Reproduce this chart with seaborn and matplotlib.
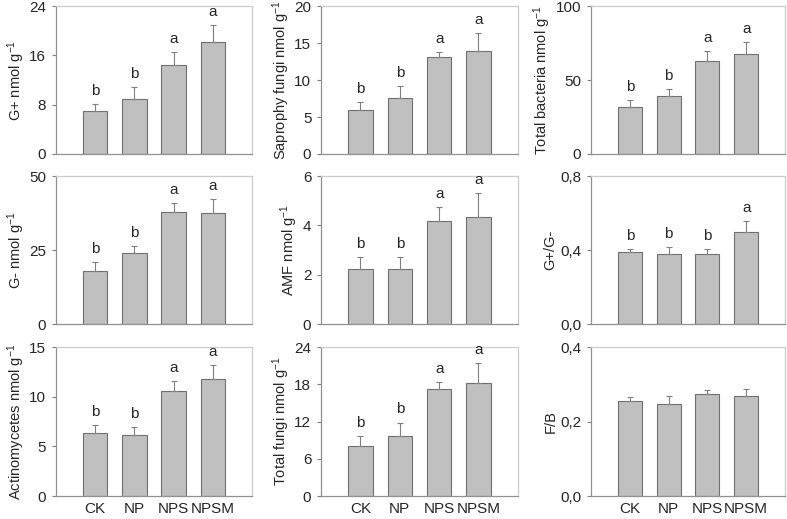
import numpy as np
import pandas as pd
import seaborn as sns
import matplotlib
matplotlib.use("Agg")
import matplotlib.pyplot as plt
from matplotlib.ticker import FuncFormatter

sns.set_style("white")
plt.rcParams['font.family'] = ['Liberation Sans', 'DejaVu Sans']
plt.rcParams['mathtext.default'] = 'regular'

treatments = ["CK", "NP", "NPS", "NPSM"]

# means, standard errors and significance letters per panel
g_pos = [7.0, 9.0, 14.5, 18.2]
g_pos_se = [1.1, 1.9, 2.0, 2.8]
g_pos_sig = ["b", "b", "a", "a"]

sapro = [5.9, 7.6, 13.1, 13.9]
sapro_se = [1.1, 1.65, 0.65, 2.4]
sapro_sig = ["b", "b", "a", "a"]

bact = [31.7, 39.1, 62.9, 67.4]
bact_se = [4.9, 4.7, 6.5, 8.1]
bact_sig = ["b", "b", "a", "a"]

g_neg = [17.9, 24.0, 37.9, 37.4]
g_neg_se = [3.1, 2.4, 3.1, 4.9]
g_neg_sig = ["b", "b", "a", "a"]

amf = [2.22, 2.22, 4.19, 4.35]
amf_se = [0.5, 0.48, 0.54, 0.96]
amf_sig = ["b", "b", "a", "a"]

ratio_g = [0.392, 0.376, 0.380, 0.495]
ratio_g_se = [0.016, 0.043, 0.028, 0.064]
ratio_g_sig = ["b", "b", "b", "a"]

actino = [6.35, 6.18, 10.6, 11.8]
actino_se = [0.8, 0.78, 1.0, 1.4]
actino_sig = ["b", "b", "a", "a"]

fungi = [8.07, 9.74, 17.22, 18.19]
fungi_se = [1.56, 2.1, 1.18, 3.2]
fungi_sig = ["b", "b", "a", "a"]

fb = [0.256, 0.247, 0.274, 0.268]
fb_se = [0.011, 0.022, 0.010, 0.020]
fb_sig = ["", "", "", ""]

panels = [
    (g_pos, g_pos_se, g_pos_sig, "G+ nmol g$^{-1}$", [0, 8, 16, 24], False),
    (sapro, sapro_se, sapro_sig, "Saprophy fungi nmol g$^{-1}$", [0, 5, 10, 15, 20], False),
    (bact, bact_se, bact_sig, "Total bacteria nmol g$^{-1}$", [0, 50, 100], False),
    (g_neg, g_neg_se, g_neg_sig, "G- nmol g$^{-1}$", [0, 25, 50], False),
    (amf, amf_se, amf_sig, "AMF nmol g$^{-1}$", [0, 2, 4, 6], False),
    (ratio_g, ratio_g_se, ratio_g_sig, "G+/G-", [0, 0.4, 0.8], True),
    (actino, actino_se, actino_sig, "Actinomycetes nmol g$^{-1}$", [0, 5, 10, 15], False),
    (fungi, fungi_se, fungi_sig, "Total fungi nmol g$^{-1}$", [0, 6, 12, 18, 24], False),
    (fb, fb_se, fb_sig, "F/B", [0, 0.2, 0.4], True),
]

fig = plt.figure(figsize=(7.87, 5.19), dpi=100)
lefts = [0.0712, 0.408, 0.751]
widths = [0.249, 0.250, 0.2465]
bottoms = [0.7033, 0.3757, 0.0443]
heights = [0.285, 0.285, 0.287]

for i, (vals, se, sig, label, ticks, decimal) in enumerate(panels):
    r, c = divmod(i, 3)
    ax = fig.add_axes([lefts[c], bottoms[r], widths[c], heights[r]])
    df = pd.DataFrame({"treatment": treatments, "value": vals})
    sns.barplot(data=df, x="treatment", y="value", ax=ax, color="#c0c0c0",
                saturation=1, width=0.62, edgecolor="#707070", linewidth=0.8,
                errorbar=None)
    x = np.arange(len(treatments))
    ax.errorbar(x, vals, yerr=[np.zeros(len(vals)), se], fmt="none",
                ecolor="#808080", elinewidth=0.8, capsize=2.5, capthick=0.8)
    for xi, v, e, s in zip(x, vals, se, sig):
        ax.annotate(s, (xi, v + e), xytext=(0, 6.5), textcoords="offset points",
                    ha="center", va="baseline", fontsize=11)
    ax.set_xlim(-1, 4)
    ax.set_ylim(ticks[0], ticks[-1])
    ax.set_yticks(ticks)
    if decimal:
        ax.yaxis.set_major_formatter(FuncFormatter(lambda v, p: f"{v:.1f}".replace(".", ",")))
    else:
        ax.yaxis.set_major_formatter(FuncFormatter(lambda v, p: f"{v:g}"))
    ax.set_ylabel(label, fontsize=10.5, labelpad=2)
    ax.set_xlabel("")
    if r == 2:
        ax.set_xticks(x)
        ax.set_xticklabels(treatments, fontsize=11)
    else:
        ax.set_xticks([])
    ax.tick_params(axis="y", direction="out", length=3, width=0.8,
                   color="#808080", labelsize=11, pad=4, left=True)
    ax.tick_params(axis="x", length=0, labelsize=11, pad=4)
    for side in ["left", "bottom"]:
        ax.spines[side].set_color("#909090")
        ax.spines[side].set_linewidth(0.9)
    for side in ["top", "right"]:
        ax.spines[side].set_color("#cccccc")
        ax.spines[side].set_linewidth(0.9)

fig.savefig("out.png", dpi=100)
